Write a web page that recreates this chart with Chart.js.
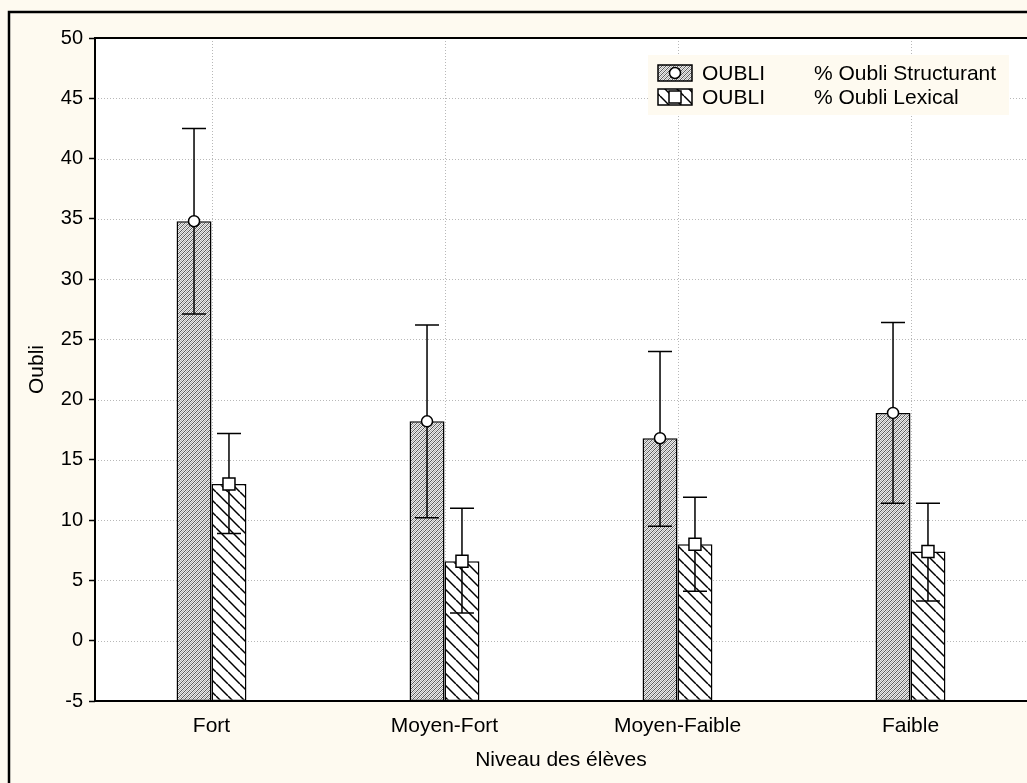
<!DOCTYPE html>
<html><head><meta charset="utf-8">
<script src="https://cdn.jsdelivr.net/npm/chart.js@4.4.1/dist/chart.umd.min.js"></script>
<style>html,body{margin:0;padding:0;background:#FEFAF0;overflow:hidden}canvas{display:block}</style>
</head><body>
<canvas id="c" width="1027" height="783"></canvas>
<script>
// ---- data ----
const categories = ['Fort', 'Moyen-Fort', 'Moyen-Faible', 'Faible'];
const structurant = [34.8, 18.2, 16.8, 18.9];
const structurantLow = [27.1, 10.2, 9.5, 11.4];
const structurantHigh = [42.5, 26.2, 24.0, 26.4];
const lexical = [13.0, 6.6, 8.0, 7.4];
const lexicalLow = [8.9, 2.3, 4.1, 3.3];
const lexicalHigh = [17.2, 11.0, 11.9, 11.4];
const yMin = -5, yMax = 50, yStep = 5;
const seriesNames = ['OUBLI', 'OUBLI'];
const seriesLabels = ['% Oubli Structurant', '% Oubli Lexical'];
const xTitle = 'Niveau des élèves';
const yTitle = 'Oubli';

const FONT = '"Liberation Sans", Arial, sans-serif';
const BG = '#FEFAF0';

function finePattern() {
  const c = document.createElement('canvas'); c.width = 4; c.height = 4;
  const g = c.getContext('2d');
  g.fillStyle = '#ececec'; g.fillRect(0, 0, 4, 4);
  g.fillStyle = '#5a5a5a';
  for (let i = 0; i < 4; i++) { g.fillRect(3 - i, i, 1, 1); }
  g.fillStyle = '#b0b0b0';
  for (let i = 0; i < 4; i++) { g.fillRect((5 - i) % 4, i, 1, 1); }
  return g.createPattern(c, 'repeat');
}
function coarsePattern() {
  const s = 12;
  const c = document.createElement('canvas'); c.width = s; c.height = s;
  const g = c.getContext('2d');
  g.fillStyle = '#ffffff'; g.fillRect(0, 0, s, s);
  g.strokeStyle = '#000'; g.lineWidth = 1.5;
  for (const o of [-s, 0, s]) { g.beginPath(); g.moveTo(o, 0); g.lineTo(o + s, s); g.stroke(); }
  return g.createPattern(c, 'repeat');
}
const pat1 = finePattern();
const pat2 = coarsePattern();

function drawMarker(ctx, kind, x, y) {
  ctx.save();
  ctx.fillStyle = '#fff'; ctx.strokeStyle = '#000'; ctx.lineWidth = 1.5;
  ctx.beginPath();
  if (kind === 'circle') ctx.arc(x, y, 5.5, 0, Math.PI * 2);
  else ctx.rect(x - 6, y - 6, 12, 12);
  ctx.fill(); ctx.stroke();
  ctx.restore();
}

const framePlugin = {
  id: 'frame',
  beforeDraw(chart) {
    const { ctx, chartArea: a } = chart;
    ctx.save();
    ctx.fillStyle = BG; ctx.fillRect(0, 0, chart.width, chart.height);
    ctx.strokeStyle = '#000'; ctx.lineWidth = 2.5;
    ctx.strokeRect(9, 12, chart.width + 20, chart.height + 20);
    ctx.fillStyle = '#fff'; ctx.fillRect(a.left, a.top, a.right - a.left + 5, a.bottom - a.top);
    ctx.restore();
  },
  beforeDatasetsDraw(chart) {
    const { ctx, chartArea: a, scales } = chart;
    const ys = scales.y, xs = scales.x;
    ctx.save();
    ctx.strokeStyle = '#b8b8b8'; ctx.lineWidth = 1; ctx.setLineDash([1, 2]);
    ys.ticks.forEach(t => {
      if (t.value <= yMin || t.value >= yMax) return;
      const y = Math.round(ys.getPixelForValue(t.value)) + 0.5;
      ctx.beginPath(); ctx.moveTo(a.left, y); ctx.lineTo(a.right, y); ctx.stroke();
    });
    categories.forEach((c, i) => {
      const x = Math.round(xs.getPixelForValue(i)) + 0.5;
      ctx.beginPath(); ctx.moveTo(x, a.top); ctx.lineTo(x, a.bottom); ctx.stroke();
    });
    ctx.restore();
  },
  afterDatasetsDraw(chart) {
    const { ctx, chartArea: a, scales } = chart;
    const ys = scales.y;
    const lows = [structurantLow, lexicalLow], highs = [structurantHigh, lexicalHigh];
    const kinds = ['circle', 'square'];
    ctx.save();
    ctx.strokeStyle = '#000'; ctx.lineWidth = 1.5;
    chart.data.datasets.forEach((ds, di) => {
      const meta = chart.getDatasetMeta(di);
      meta.data.forEach((bar, i) => {
        const x = bar.x;
        const yl = ys.getPixelForValue(lows[di][i]);
        const yh = ys.getPixelForValue(highs[di][i]);
        ctx.beginPath();
        ctx.moveTo(x, yl); ctx.lineTo(x, yh);
        ctx.moveTo(x - 12, yl); ctx.lineTo(x + 12, yl);
        ctx.moveTo(x - 12, yh); ctx.lineTo(x + 12, yh);
        ctx.stroke();
      });
    });
    chart.data.datasets.forEach((ds, di) => {
      const meta = chart.getDatasetMeta(di);
      meta.data.forEach(bar => drawMarker(ctx, kinds[di], bar.x, bar.y));
    });
    // axes frame
    ctx.lineWidth = 2;
    ctx.beginPath();
    ctx.moveTo(a.right + 5, a.top); ctx.lineTo(a.left, a.top); ctx.lineTo(a.left, a.bottom); ctx.lineTo(a.right + 5, a.bottom);
    ctx.stroke();
    ctx.restore();
  },
  afterDraw(chart) {
    const { ctx, chartArea: a } = chart;
    ctx.save();
    // legend
    ctx.fillStyle = BG; ctx.fillRect(648, 55, 361, 60);
    const rows = [73, 97];
    const pats = [pat1, pat2];
    const kinds = ['circle', 'square'];
    rows.forEach((cy, i) => {
      const sy = cy - 8;
      ctx.fillStyle = pats[i]; ctx.fillRect(658, sy, 34, 16);
      ctx.strokeStyle = '#000'; ctx.lineWidth = 1.5; ctx.strokeRect(658, sy, 34, 16);
      drawMarker(ctx, kinds[i], 675, cy);
      ctx.fillStyle = '#000'; ctx.font = '21px ' + FONT; ctx.textBaseline = 'middle'; ctx.textAlign = 'left';
      ctx.fillText(seriesNames[i], 702, cy + 1);
      ctx.fillText(seriesLabels[i], 814, cy + 1);
    });
    // axis titles
    ctx.fillStyle = '#000'; ctx.font = '21px ' + FONT; ctx.textAlign = 'center'; ctx.textBaseline = 'middle';
    ctx.fillText(xTitle, (a.left + a.right) / 2, 760);
    ctx.translate(37, (a.top + a.bottom) / 2); ctx.rotate(-Math.PI / 2);
    ctx.fillText(yTitle, 0, 0);
    ctx.restore();
  }
};

new Chart(document.getElementById('c'), {
  type: 'bar',
  data: {
    labels: categories,
    datasets: [
      { label: seriesLabels[0], data: structurant.map(v => [yMin, v]), backgroundColor: pat1, borderColor: '#000', borderWidth: 1.5, borderSkipped: false },
      { label: seriesLabels[1], data: lexical.map(v => [yMin, v]), backgroundColor: pat2, borderColor: '#000', borderWidth: 1.5, borderSkipped: false }
    ]
  },
  options: {
    responsive: false,
    animation: false,
    devicePixelRatio: 1,
    layout: { padding: { left: 10, top: 38, right: 0, bottom: 0 } },
    datasets: { bar: { categoryPercentage: 0.3, barPercentage: 1.0 } },
    plugins: { legend: { display: false }, tooltip: { enabled: false } },
    scales: {
      x: {
        offset: true,
        grid: { display: false },
        border: { display: false },
        ticks: { color: '#000', font: { family: FONT, size: 21 }, padding: 5, maxRotation: 0 },
        afterFit(s) { s.height = 82; }
      },
      y: {
        min: yMin, max: yMax,
        grid: { drawOnChartArea: false, drawTicks: true, tickLength: 6, tickColor: '#000', tickWidth: 1.5 },
        border: { display: false },
        ticks: { stepSize: yStep, color: '#000', font: { family: FONT, size: 20 }, padding: 6 },
        afterFit(s) { s.width = 85; }
      }
    }
  },
  plugins: [framePlugin]
});
</script>
</body></html>
